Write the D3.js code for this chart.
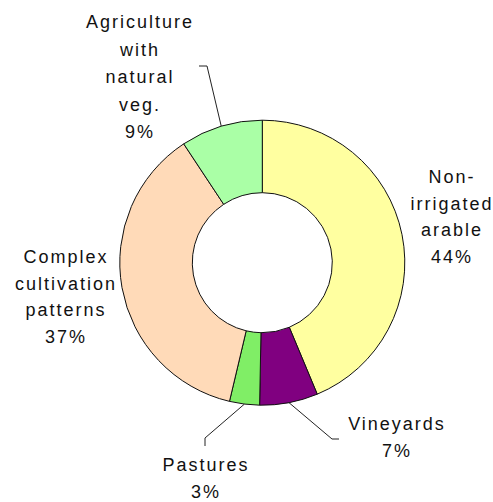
<!DOCTYPE html>
<html>
<head>
<meta charset="utf-8">
<script src="https://cdn.jsdelivr.net/npm/d3@7"></script>
<style>
  body { margin: 0; background: #fff; }
  svg { display: block; }
  .lbl { font-family: "Liberation Sans", Arial, sans-serif; font-size: 18px; letter-spacing: 2px; fill: #111; }
  .leader { fill: none; stroke: #222; stroke-width: 1px; }
</style>
</head>
<body>
<div id="chart"></div>
<script>
// land cover shares, clockwise from 12 o'clock
var categories = ['Non-irrigated arable', 'Vineyards', 'Pastures', 'Complex cultivation patterns', 'Agriculture with natural veg.'];
var values = [43.7, 6.6, 3.4, 37.0, 9.3];
var labelLines = [
  ['Non-', 'irrigated', 'arable'],
  ['Vineyards'],
  ['Pastures'],
  ['Complex', 'cultivation', 'patterns'],
  ['Agriculture', 'with', 'natural', 'veg.']
];
var colors = ['#ffffa0', '#800080', '#80ee66', '#ffdab8', '#aaffa6'];

var width = 493, height = 502;
var cx = 262.3, cy = 262.7, rOuter = 142.5, rInner = 70;
var lineH = 26.5;

// label anchor (centre x, first baseline y) and leader elbow for each slice
var labelPos = [
  { x: 452, y: 183 },
  { x: 397, y: 430, elbow: [[332, 439], [339, 439]] },
  { x: 206, y: 471, elbow: [[205, 438], [205, 446]] },
  { x: 66, y: 263 },
  { x: 140, y: 28, lineH: 27.5, elbow: [[207, 66], [199, 66]] }
];

var data = categories.map(function(c, i) {
  return { name: c, value: values[i], lines: labelLines[i], color: colors[i] };
});
var total = d3.sum(values);

var pie = d3.pie()
  .sort(null)
  .value(function(d) { return d.value; });

var arc = d3.arc()
  .innerRadius(rInner)
  .outerRadius(rOuter);

var svg = d3.select('#chart')
  .append('svg')
  .attr('width', width)
  .attr('height', height);

var g = svg.append('g')
  .attr('transform', 'translate(' + cx + ',' + cy + ')');

var arcs = pie(data);

g.selectAll('path.slice')
  .data(arcs)
  .enter()
  .append('path')
  .attr('class', 'slice')
  .attr('d', arc)
  .attr('fill', function(d) { return d.data.color; })
  .attr('stroke', '#111')
  .attr('stroke-width', 1);

// leader lines from slice mid-angle on the outer edge
arcs.forEach(function(a, i) {
  var p = labelPos[i];
  if (!p.elbow) return;
  var mid = (a.startAngle + a.endAngle) / 2;
  var sx = cx + rOuter * Math.sin(mid),
      sy = cy - rOuter * Math.cos(mid);
  var pts = [[sx, sy]].concat(p.elbow);
  svg.append('path')
    .attr('class', 'leader')
    .attr('d', d3.line()(pts));
});

// labels
arcs.forEach(function(a, i) {
  var p = labelPos[i];
  var lh = p.lineH || lineH;
  var lines = a.data.lines.concat([Math.round(a.data.value / total * 100) + '%']);
  var t = svg.append('text')
    .attr('class', 'lbl')
    .attr('text-anchor', 'middle');
  lines.forEach(function(s, k) {
    t.append('tspan')
      .attr('x', p.x)
      .attr('y', p.y + k * lh)
      .text(s);
  });
});
</script>
</body>
</html>
